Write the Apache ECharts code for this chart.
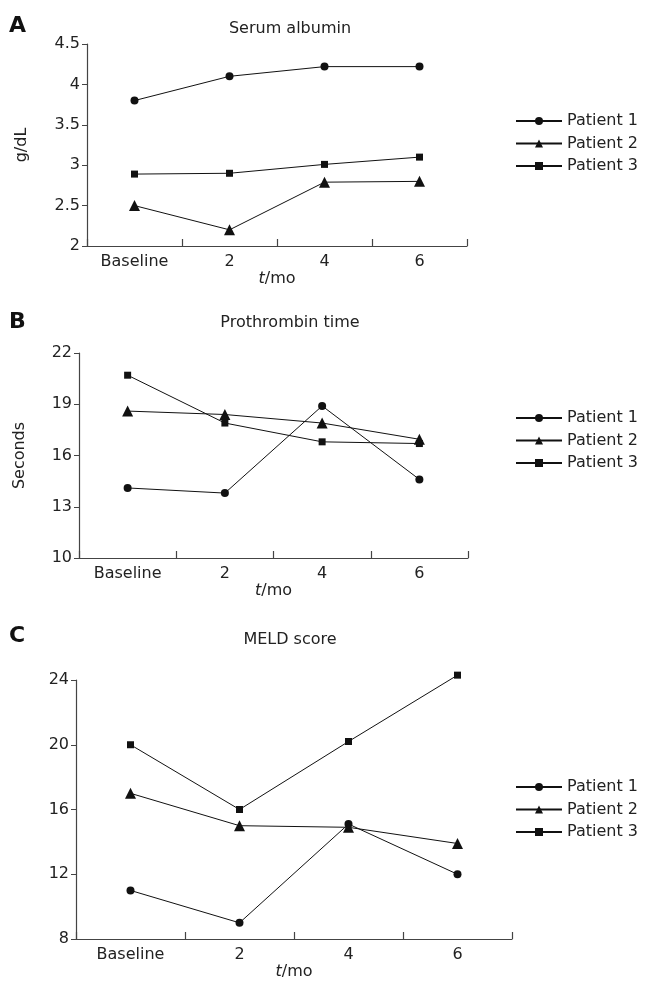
<!DOCTYPE html>
<html>
<head>
<meta charset="utf-8">
<script src="https://cdn.jsdelivr.net/npm/echarts@6/dist/echarts.min.js"></script>
<style>html,body{margin:0;padding:0;background:#fff;}#c{width:645px;height:981px;}</style>
</head>
<body>
<div id="c"></div>
<script>
const categories = ['Baseline', '2', '4', '6'];
const seriesNames = ['Patient 1', 'Patient 2', 'Patient 3'];
const albuminP1 = [3.8, 4.1, 4.22, 4.22];
const albuminP2 = [2.5, 2.2, 2.79, 2.8];
const albuminP3 = [2.89, 2.9, 3.01, 3.1];
const ptP1 = [14.1, 13.8, 18.9, 14.6];
const ptP2 = [18.6, 18.4, 17.9, 16.95];
const ptP3 = [20.7, 17.9, 16.8, 16.7];
const meldP1 = [11, 9, 15.1, 12];
const meldP2 = [17, 15, 14.9, 13.9];
const meldP3 = [20, 16, 20.2, 24.3];
const panelTitles = ['Serum albumin', 'Prothrombin time', 'MELD score'];
const panelLetters = ['A', 'B', 'C'];
const yNames = ['g/dL', 'Seconds', ''];

const FONT = 'DejaVu Sans';
const TXT = '#222';
const AX = '#444';
const symbols = ['circle', 'triangle', 'rect'];
const symSizes = [8, 11, 7];

const grids = [
  {left: 87, right: 178, top: 44, bottom: 735},
  {left: 79, right: 177, top: 353, bottom: 423},
  {left: 76, right: 133, top: 680, bottom: 41}
];
const yRanges = [
  {min: 2, max: 4.5, interval: 0.5},
  {min: 10, max: 22, interval: 3},
  {min: 8, max: 24, interval: 4}
];
const yNameGaps = [57, 51, 50];
const xNameGaps = [19, 22, 25];
const legendTops = [113, 410, 779];
const titleYs = [29, 323, 640];
const letterYs = [26, 322, 636];
const data = [
  [albuminP1, albuminP2, albuminP3],
  [ptP1, ptP2, ptP3],
  [meldP1, meldP2, meldP3]
];

const xAxes = [], yAxes = [], series = [], legends = [], graphics = [];
for (let g = 0; g < 3; g++) {
  xAxes.push({
    type: 'category', gridIndex: g, data: categories, boundaryGap: true,
    axisLine: {lineStyle: {color: AX, width: 1.2}},
    axisTick: {show: true, inside: true, length: 7, interval: 0, lineStyle: {color: AX, width: 1.2}},
    axisLabel: {color: TXT, fontFamily: FONT, fontSize: 16, margin: 8},
    name: '{i|t}/mo', nameLocation: 'middle', nameGap: xNameGaps[g],
    nameTextStyle: {color: TXT, fontFamily: FONT, fontSize: 16, verticalAlign: 'top',
      rich: {i: {fontStyle: 'italic', fontFamily: FONT, fontSize: 16, color: TXT}}}
  });
  yAxes.push({
    type: 'value', gridIndex: g, min: yRanges[g].min, max: yRanges[g].max, interval: yRanges[g].interval,
    axisLine: {show: true, lineStyle: {color: AX, width: 1.2}},
    axisTick: {show: true, length: 5, lineStyle: {color: AX}},
    axisLabel: {color: TXT, fontFamily: FONT, fontSize: 16, margin: 7},
    splitLine: {show: false},
    name: yNames[g], nameLocation: 'middle', nameGap: yNameGaps[g], nameRotate: 90,
    nameTextStyle: {color: TXT, fontFamily: FONT, fontSize: 16}
  });
  for (let s = 0; s < 3; s++) {
    series.push({
      type: 'line', name: seriesNames[s], xAxisIndex: g, yAxisIndex: g,
      data: data[g][s], symbol: symbols[s], symbolSize: symSizes[s], clip: false,
      lineStyle: {color: '#111', width: 1},
      itemStyle: {color: '#111'},
      emphasis: {disabled: true}, animation: false
    });
  }
  legends.push({
    orient: 'vertical', left: 515, top: legendTops[g], padding: 0, itemWidth: 46, itemHeight: 10, itemGap: 6.5,
    data: seriesNames, selectedMode: false,
    textStyle: {color: TXT, fontFamily: FONT, fontSize: 16}
  });
  graphics.push({
    type: 'text', x: 290, y: titleYs[g],
    style: {text: panelTitles[g], fill: TXT, font: '16px "' + FONT + '"', textAlign: 'center', textVerticalAlign: 'middle'}
  });
  graphics.push({
    type: 'text', x: 9, y: letterYs[g],
    style: {text: panelLetters[g], fill: '#111', font: 'bold 22px "' + FONT + '"', textAlign: 'left', textVerticalAlign: 'middle'}
  });
}

const chart = echarts.init(document.getElementById('c'), null, {renderer: 'canvas'});
chart.setOption({
  animation: false,
  backgroundColor: '#fff',
  grid: grids,
  xAxis: xAxes,
  yAxis: yAxes,
  legend: legends,
  series: series,
  graphic: graphics
});
</script>
</body>
</html>
